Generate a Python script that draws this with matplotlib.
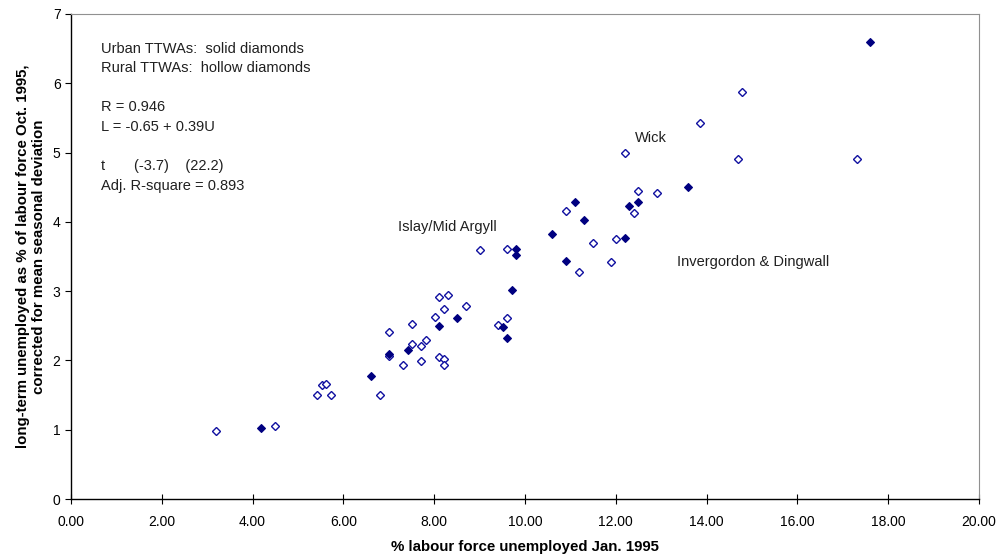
import matplotlib.pyplot as plt

# rural TTWAs (hollow diamonds)
rural_x = [3.20, 4.50, 5.42, 5.52, 5.62, 5.72, 6.81, 7.01, 7.01, 7.31,
           7.51, 7.51, 7.71, 7.81, 7.71, 8.11, 8.22, 8.22, 8.01, 8.11,
           8.31, 8.21, 8.71, 9.01, 9.61, 9.41, 9.61, 10.90, 11.18, 11.50,
           11.90, 12.00, 12.20, 12.40, 12.50, 12.90, 13.85, 14.70, 14.79, 17.31]
rural_y = [0.98, 1.05, 1.50, 1.645, 1.66, 1.50, 1.50, 2.41, 2.07, 1.93,
           2.53, 2.23, 2.21, 2.30, 1.99, 2.05, 2.02, 1.94, 2.62, 2.92,
           2.94, 2.74, 2.79, 3.59, 3.61, 2.51, 2.61, 4.16, 3.27, 3.70,
           3.42, 3.75, 4.99, 4.13, 4.44, 4.41, 5.42, 4.90, 5.87, 4.91]

# urban TTWAs (solid diamonds)
urban_x = [4.19, 6.61, 7.01, 7.42, 8.11, 8.51, 9.51, 9.61, 9.71, 9.81,
           9.81, 10.60, 10.90, 11.11, 11.31, 12.20, 12.30, 12.50, 13.60, 17.61]
urban_y = [1.02, 1.78, 2.10, 2.15, 2.50, 2.61, 2.48, 2.32, 3.02, 3.61,
           3.52, 3.82, 3.44, 4.29, 4.02, 3.77, 4.23, 4.28, 4.51, 6.59]

labels = [("Wick", 12.42, 5.21), ("Islay/Mid Argyll", 7.20, 3.92),
          ("Invergordon & Dingwall", 13.34, 3.42)]

notes = ["Urban TTWAs:  solid diamonds", "Rural TTWAs:  hollow diamonds", "",
         "R = 0.946", "L = -0.65 + 0.39U", "",
         "t       (-3.7)    (22.2)", "Adj. R-square = 0.893"]

plt.rcParams['font.family'] = ['Liberation Sans', 'DejaVu Sans']

fig = plt.figure(figsize=(10.01, 5.57), dpi=100)
ax = fig.add_axes([0.0709, 0.1041, 0.9071, 0.8708])

ax.plot(rural_x, rural_y, 'D', ms=4.2, mfc='white', mec='#1010a0', mew=1.0, ls='none')
ax.plot(urban_x, urban_y, 'D', ms=4.4, mfc='#000080', mec='#000080', mew=0.8, ls='none')

for txt, x, y in labels:
    ax.text(x, y, txt, fontsize=10.5, va='center', ha='left', color='#202020')

ax.text(0.0328, 0.943, "\n".join(notes), transform=ax.transAxes, fontsize=10.5,
        va='top', ha='left', linespacing=1.51, color='#202020')

ax.set_xlim(0, 20)
ax.set_ylim(0, 7)
ax.set_xticks(range(0, 21, 2))
ax.set_xticklabels(["%.2f" % v for v in range(0, 21, 2)], fontsize=10)
ax.set_yticks(range(0, 8))
ax.tick_params(axis='x', direction='inout', length=7, width=0.8, pad=8)
ax.tick_params(axis='y', direction='out', length=4, width=0.8, labelsize=10)

ax.spines['top'].set_color('#909090')
ax.spines['right'].set_color('#909090')
for s in ('left', 'bottom'):
    ax.spines[s].set_color('black')
    ax.spines[s].set_linewidth(1.0)

ax.set_xlabel("% labour force unemployed Jan. 1995", fontsize=10.8, fontweight='bold',
              labelpad=8)
ax.set_ylabel("long-term unemployed as % of labour force Oct. 1995,\ncorrected for mean seasonal deviation",
              fontsize=10.8, fontweight='bold', labelpad=5)

fig.savefig("out.png", dpi=100)
